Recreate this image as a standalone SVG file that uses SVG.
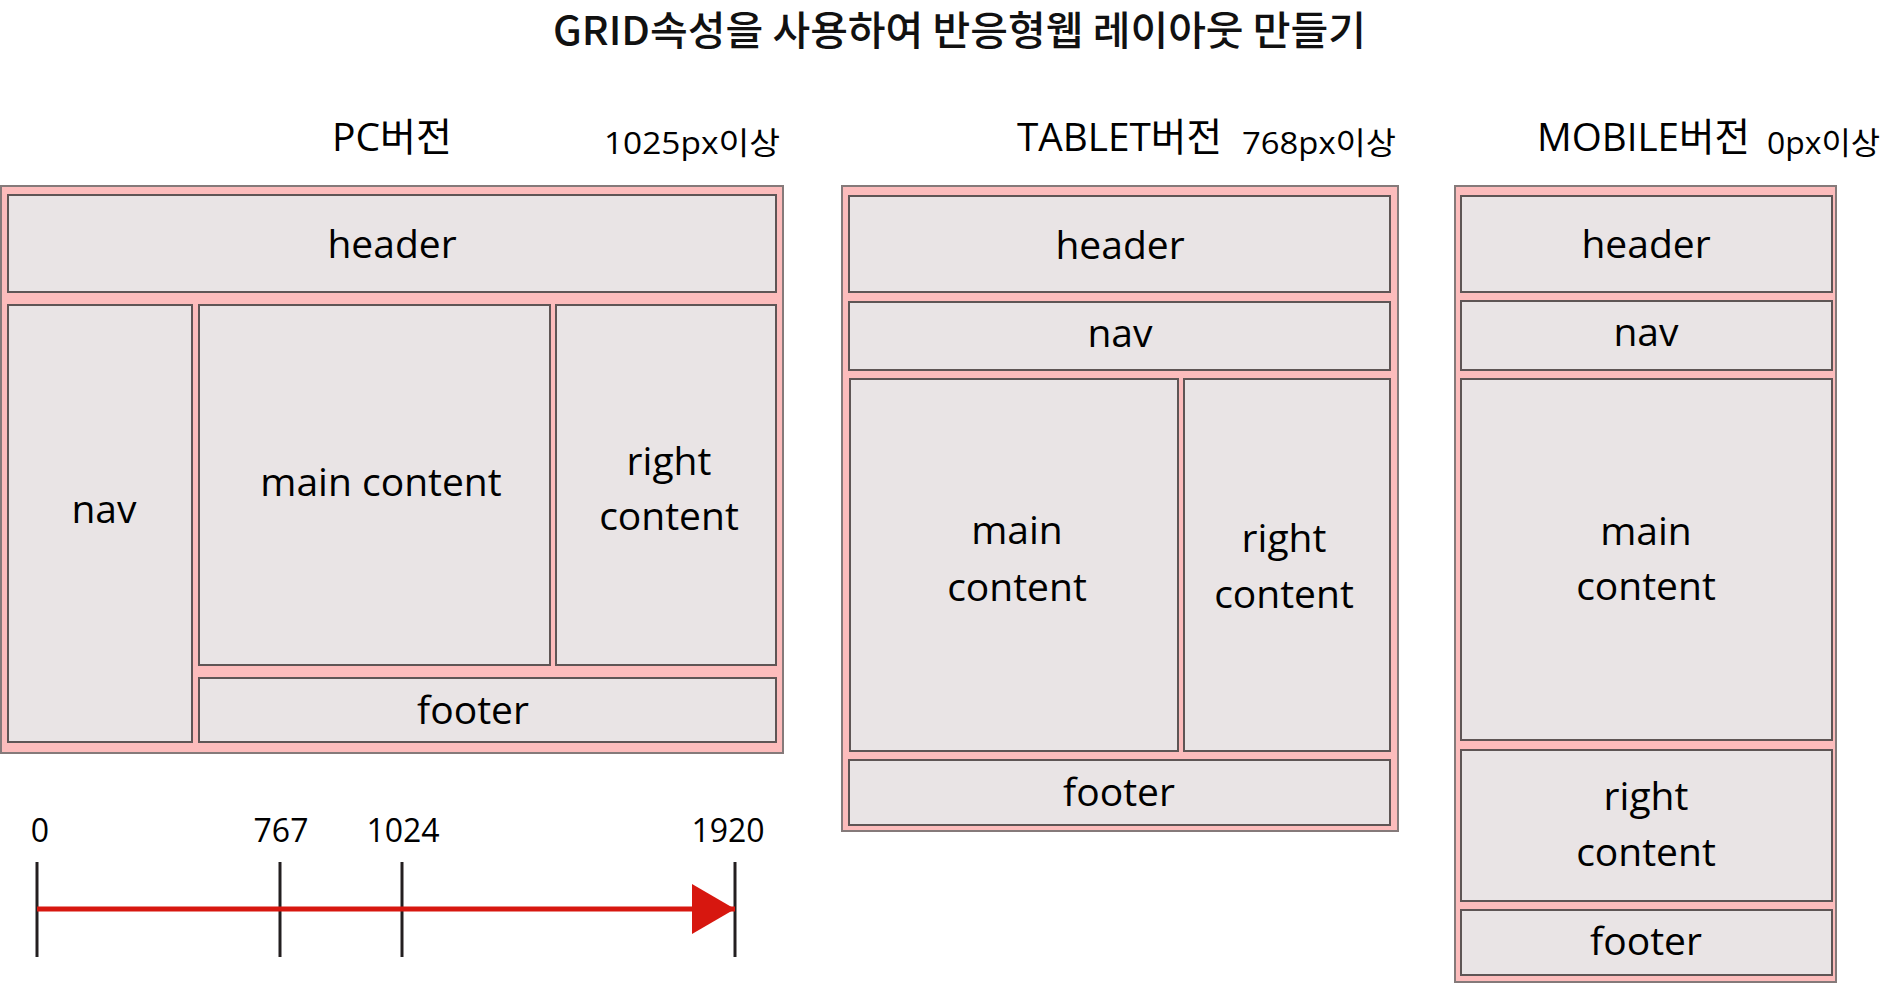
<svg xmlns="http://www.w3.org/2000/svg" width="1882" height="983" viewBox="0 0 1882 983">
<style>
.bg{fill:#ffffff}
.outer{fill:#fcbcbc;stroke:#857a7a;stroke-width:2}
.cell{fill:#e9e4e5;stroke:#5e5555;stroke-width:2}
.lbl{font-family:"Open Sans","Noto Sans",sans-serif;font-size:39px;fill:#000;text-anchor:middle}
.head{font-family:"Open Sans","Noto Sans CJK KR",sans-serif;font-size:39px;fill:#000}
.sub{font-family:"Open Sans","Noto Sans CJK KR",sans-serif;font-size:31px;fill:#000}
.title{font-family:"Noto Sans CJK KR","Noto Sans",sans-serif;font-size:40px;font-weight:500;fill:#111}
.num{font-family:"Open Sans","Noto Sans",sans-serif;font-size:32px;fill:#000;text-anchor:middle}
.tick{stroke:#231f20;stroke-width:3;fill:none}
.axis{stroke:#d7170f;stroke-width:5;fill:none}
</style>
<defs>
<marker id="arrow" markerUnits="userSpaceOnUse" markerWidth="44" markerHeight="50" refX="43" refY="25" orient="auto">
<path d="M0,0 L43,25 L0,50 Z" fill="#d7170f"/>
</marker>
</defs>
<rect class="bg" x="0" y="0" width="1882" height="983"/>
<text class="title" x="553" y="45" textLength="813" lengthAdjust="spacingAndGlyphs">GRID속성을 사용하여 반응형웹 레이아웃 만들기</text>

<g id="headings">
<text class="head" x="332" y="151" textLength="120" lengthAdjust="spacingAndGlyphs">PC버전</text>
<text class="sub" x="604" y="154" textLength="176" lengthAdjust="spacingAndGlyphs">1025px이상</text>
<text class="head" x="1017" y="151" textLength="205" lengthAdjust="spacingAndGlyphs">TABLET버전</text>
<text class="sub" x="1242" y="154" textLength="154" lengthAdjust="spacingAndGlyphs">768px이상</text>
<text class="head" x="1537" y="151" textLength="213" lengthAdjust="spacingAndGlyphs">MOBILE버전</text>
<text class="sub" x="1767" y="154" textLength="113" lengthAdjust="spacingAndGlyphs">0px이상</text>
</g>

<g id="pc">
<rect class="outer" x="1" y="186" width="782" height="567"/>
<g id="pc-header"><rect class="cell" x="8" y="195" width="768" height="97"/><text class="lbl" x="392" y="258">header</text></g>
<g id="pc-nav"><rect class="cell" x="8" y="305" width="184" height="437"/><text class="lbl" x="104" y="523">nav</text></g>
<g id="pc-main"><rect class="cell" x="199" y="305" width="351" height="360"/><text class="lbl" x="381" y="496">main content</text></g>
<g id="pc-right"><rect class="cell" x="556" y="305" width="220" height="360"/><text class="lbl" x="669" y="475">right</text><text class="lbl" x="669" y="530">content</text></g>
<g id="pc-footer"><rect class="cell" x="199" y="678" width="577" height="64"/><text class="lbl" x="473" y="724">footer</text></g>
</g>

<g id="tablet">
<rect class="outer" x="842" y="186" width="556" height="645"/>
<g id="tab-header"><rect class="cell" x="849" y="196" width="541" height="96"/><text class="lbl" x="1120" y="259">header</text></g>
<g id="tab-nav"><rect class="cell" x="849" y="302" width="541" height="68"/><text class="lbl" x="1120" y="347">nav</text></g>
<g id="tab-main"><rect class="cell" x="850" y="379" width="328" height="372"/><text class="lbl" x="1017" y="544">main</text><text class="lbl" x="1017" y="601">content</text></g>
<g id="tab-right"><rect class="cell" x="1184" y="379" width="206" height="372"/><text class="lbl" x="1284" y="552">right</text><text class="lbl" x="1284" y="608">content</text></g>
<g id="tab-footer"><rect class="cell" x="849" y="760" width="541" height="65"/><text class="lbl" x="1119" y="806">footer</text></g>
</g>

<g id="mobile">
<rect class="outer" x="1455" y="186" width="381" height="796"/>
<g id="mob-header"><rect class="cell" x="1461" y="196" width="371" height="96"/><text class="lbl" x="1646" y="258">header</text></g>
<g id="mob-nav"><rect class="cell" x="1461" y="301" width="371" height="69"/><text class="lbl" x="1646" y="346">nav</text></g>
<g id="mob-main"><rect class="cell" x="1461" y="379" width="371" height="361"/><text class="lbl" x="1646" y="545">main</text><text class="lbl" x="1646" y="600">content</text></g>
<g id="mob-right"><rect class="cell" x="1461" y="750" width="371" height="151"/><text class="lbl" x="1646" y="810">right</text><text class="lbl" x="1646" y="866">content</text></g>
<g id="mob-footer"><rect class="cell" x="1461" y="910" width="371" height="65"/><text class="lbl" x="1646" y="955">footer</text></g>
</g>

<g id="timeline-labels">
<text class="num" x="40" y="842">0</text>
<text class="num" x="281" y="842">767</text>
<text class="num" x="403" y="842">1024</text>
<text class="num" x="728" y="842">1920</text>
</g>

<g id="connectors">
<line class="tick" x1="37" y1="862" x2="37" y2="957"/>
<line class="tick" x1="280" y1="862" x2="280" y2="957"/>
<line class="tick" x1="402" y1="862" x2="402" y2="957"/>
<line class="tick" x1="735" y1="862" x2="735" y2="957"/>
<line class="axis" x1="37" y1="909" x2="735" y2="909" marker-end="url(#arrow)"/>
</g>
</svg>
